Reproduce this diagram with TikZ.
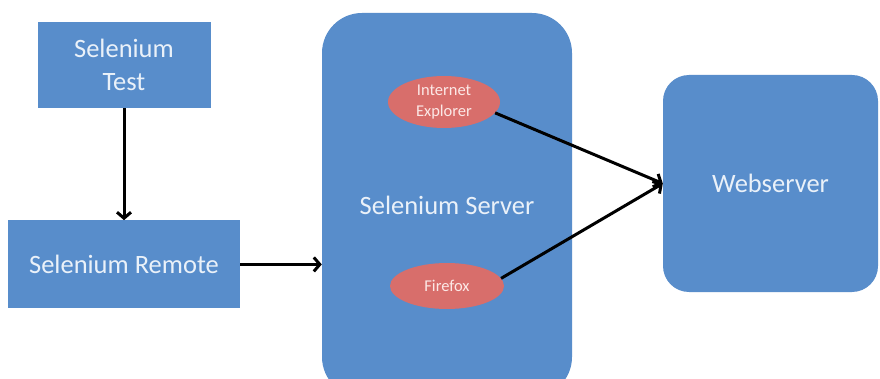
\documentclass[tikz,border=0pt]{standalone}
\usepackage{fontspec}
\setmainfont{Carlito}
\usetikzlibrary{positioning,arrows.meta,shapes.geometric}
\definecolor{boxblue}{RGB}{88,141,203}
\definecolor{ovalred}{RGB}{216,110,107}
\definecolor{boxtext}{RGB}{234,241,249}
\definecolor{ovaltext}{RGB}{252,232,230}
\tikzset{sbox/.style={rectangle,fill=boxblue,text=boxtext,align=center,inner sep=0pt,
	   font=\fontsize{26.5}{33}\selectfont},
	 rbox/.style={sbox,rounded corners=#1},
	 oval/.style={ellipse,fill=ovalred,text=ovaltext,align=center,inner sep=0pt,
	   font=\fontsize{16.5}{21}\selectfont},
	 link/.style={line width=3pt,-{Straight Barb[length=6pt,width=14pt]}}
	 }

\begin{document}
\begin{tikzpicture}[x=1pt,y=-1pt] % selenium remote control setup
	\clip (0,0) rectangle (880,379);
	\fill[white] (0,0) rectangle (880,379);
	\node[sbox,minimum width=173pt,minimum height=86pt] (test) at (124,65) {Selenium\\Test};
	\node[sbox,minimum width=232pt,minimum height=88pt] (remote) [below=112pt of test] {Selenium Remote};
	\node[rbox=40pt,minimum width=250pt,minimum height=384pt] (server) at (447,205) {Selenium Server};
	\node[rbox=26pt,minimum width=215pt,minimum height=217pt] (web) at (770.5,183.5) {Webserver};
	\node[oval,minimum width=112pt,minimum height=52pt] (ie) at (444,102) {Internet\\Explorer};
	\node[oval,minimum width=114pt,minimum height=46pt] (ff) at (447,286) {Firefox};
	\draw[link] (test) -- (remote);
	\draw[link] (remote.east) -- (remote.east -| server.west);
	\draw[link] (ie.-12) -- (web.west);
	\draw[link] (ff.8) -- (web.west);
\end{tikzpicture}
\end{document}
